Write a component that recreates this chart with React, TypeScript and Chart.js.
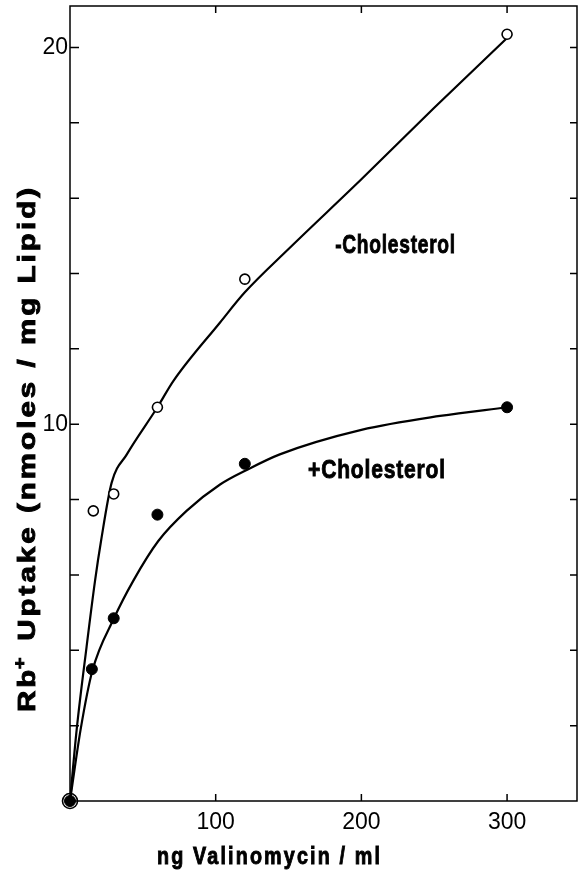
import React, { useEffect, useRef } from "react";
import { Chart, registerables } from "chart.js";

Chart.register(...registerables);

// ---- data ----
const openX = [0, 16, 30, 60, 120, 300];
const openY = [0, 7.7, 8.15, 10.45, 13.85, 20.35];
const filledX = [0, 15, 30, 60, 120, 300];
const filledY = [0, 3.5, 4.85, 7.6, 8.95, 10.45];

const openCurveX = [0, 4.6, 11.4, 17.2, 21.3, 28.6, 39, 60, 71, 103, 120, 150, 200, 250, 300];
const openCurveY = [0, 1.9, 4.1, 5.85, 6.9, 8.45, 9.2, 10.45, 11.15, 12.7, 13.5, 14.65, 16.5, 18.4, 20.25];
const filledCurveX = [0, 7.3, 15.3, 30.2, 43.5, 60.6, 80, 103, 122, 144, 200, 254, 300];
const filledCurveY = [0, 1.9, 3.45, 4.85, 5.85, 6.9, 7.7, 8.4, 8.8, 9.2, 9.85, 10.22, 10.45];

const xTickValues = [100, 200, 300];
const yTickLabelValues = [10, 20];
const yTickMarks = [2, 4, 6, 8, 10, 12, 14, 16, 18, 20];

const xTitle = "ng Valinomycin / ml";
const yTitleParts = ["Rb", "+", " Uptake (nmoles / mg Lipid)"];
const minusLabel = "-Cholesterol";
const plusLabel = "+Cholesterol";

const X_MIN = 0;
const X_MAX = 348;
const Y_MIN = 0;
const Y_MAX = 21.1;

const BOLD = '"Liberation Sans", Arial, Helvetica, sans-serif';
const REG = '"Liberation Sans", Arial, Helvetica, sans-serif';

const toPts = (xs: number[], ys: number[]) => xs.map((x, i) => ({ x, y: ys[i] }));

function heavyText(ctx: CanvasRenderingContext2D, text: string, x: number, y: number) {
  ctx.fillText(text, x, y);
  ctx.lineWidth = 0.9;
  ctx.strokeText(text, x, y);
}

// draw text squeezed horizontally to a target width (condensed look)
function drawFitted(
  ctx: CanvasRenderingContext2D,
  text: string,
  x: number,
  y: number,
  target: number,
  font: string,
  spacing: number
) {
  ctx.save();
  ctx.font = font;
  (ctx as any).letterSpacing = `${spacing}px`;
  const w = ctx.measureText(text).width - spacing;
  const sx = target / w;
  ctx.translate(x, y);
  ctx.scale(sx, 1);
  ctx.textAlign = "left";
  ctx.textBaseline = "alphabetic";
  heavyText(ctx, text, 0, 0);
  ctx.restore();
}

const decor = {
  id: "decor",
  afterDraw(chart: any) {
    const { ctx, chartArea } = chart;
    const xs = chart.scales.x;
    const ys = chart.scales.y;
    const { left, right, top, bottom } = chartArea;
    ctx.save();
    ctx.strokeStyle = "#000";
    ctx.fillStyle = "#000";
    ctx.lineWidth = 1.5;
    ctx.strokeRect(left, top, right - left, bottom - top);
    ctx.beginPath();
    for (const v of yTickMarks) {
      const y = ys.getPixelForValue(v);
      ctx.moveTo(left, y);
      ctx.lineTo(left + 9, y);
      ctx.moveTo(right, y);
      ctx.lineTo(right - 7, y);
    }
    for (const v of xTickValues) {
      const x = xs.getPixelForValue(v);
      ctx.moveTo(x, top);
      ctx.lineTo(x, top + 7);
      ctx.moveTo(x, bottom);
      ctx.lineTo(x, bottom - 7);
    }
    ctx.stroke();

    // curve labels
    drawFitted(ctx, minusLabel, xs.getPixelForValue(182), ys.getPixelForValue(14.54), 120, `bold 26px ${BOLD}`, 1);
    drawFitted(ctx, plusLabel, xs.getPixelForValue(163.4), ys.getPixelForValue(8.56), 137, `bold 26px ${BOLD}`, 1);

    // x title
    drawFitted(ctx, xTitle, 157, 864, 223, `bold 23px ${BOLD}`, 2.5);

    // y title (rotated)
    ctx.save();
    ctx.translate(35, 712);
    ctx.rotate(-Math.PI / 2);
    const big = `bold 24px ${BOLD}`;
    const small = `bold 16px ${BOLD}`;
    const sp = 2.5;
    (ctx as any).letterSpacing = `${sp}px`;
    ctx.font = big;
    const w0 = ctx.measureText(yTitleParts[0]).width;
    const w2 = ctx.measureText(yTitleParts[2]).width - sp;
    ctx.font = small;
    const w1 = ctx.measureText(yTitleParts[1]).width;
    const sx = 524 / (w0 + w1 + w2);
    ctx.scale(sx, 1);
    ctx.textBaseline = "alphabetic";
    let cx = 0;
    ctx.font = big;
    heavyText(ctx, yTitleParts[0], cx, 0);
    cx += w0;
    ctx.font = small;
    heavyText(ctx, yTitleParts[1], cx - 2, -10);
    cx += w1;
    ctx.font = big;
    heavyText(ctx, yTitleParts[2], cx, 0);
    ctx.restore();
    ctx.restore();
  },
};

export default function App() {
  const ref = useRef<HTMLCanvasElement | null>(null);
  useEffect(() => {
    if (!ref.current) return;
    const chart = new Chart(ref.current, {
      type: "scatter",
      data: {
        datasets: [
          {
            data: toPts(filledX, filledY),
            showLine: false,
            clip: false,
            pointRadius: 5.5,
            pointBackgroundColor: "#000",
            pointBorderColor: "#000",
            pointBorderWidth: 1,
          },
          {
            data: toPts(openX, openY),
            showLine: false,
            clip: false,
            pointRadius: (c: any) => (c.raw && c.raw.x === 0 ? 7.5 : 5),
            pointBackgroundColor: (c: any) => (c.raw && c.raw.x === 0 ? "rgba(0,0,0,0)" : "#fff"),
            pointBorderColor: "#000",
            pointBorderWidth: 1.6,
          },
          {
            data: toPts(openCurveX, openCurveY),
            showLine: true,
            pointRadius: 0,
            borderColor: "#000",
            borderWidth: 2.2,
            cubicInterpolationMode: "monotone",
            fill: false,
          },
          {
            data: toPts(filledCurveX, filledCurveY),
            showLine: true,
            pointRadius: 0,
            borderColor: "#000",
            borderWidth: 2.2,
            cubicInterpolationMode: "monotone",
            fill: false,
          },
        ],
      } as any,
      options: {
        animation: false,
        responsive: false,
        maintainAspectRatio: false,
        layout: { autoPadding: false, padding: { top: 6, right: 1, left: 0, bottom: 0 } },
        plugins: {
          legend: { display: false },
          tooltip: { enabled: false },
          title: { display: false },
        },
        scales: {
          x: {
            type: "linear",
            min: X_MIN,
            max: X_MAX,
            afterFit: (s: any) => {
              s.height = 69;
              s.paddingLeft = 0;
              s.paddingRight = 0;
            },
            afterBuildTicks: (s: any) => {
              s.ticks = xTickValues.map((v) => ({ value: v }));
            },
            grid: { display: false, drawTicks: false },
            border: { display: false },
            ticks: {
              color: "#000",
              font: { family: REG, size: 23 },
              padding: 8,
              maxRotation: 0,
              autoSkip: false,
              callback: (v: any) => String(v),
            },
          },
          y: {
            type: "linear",
            min: Y_MIN,
            max: Y_MAX,
            afterFit: (s: any) => {
              s.width = 70;
              s.paddingTop = 0;
              s.paddingBottom = 0;
            },
            afterBuildTicks: (s: any) => {
              s.ticks = yTickLabelValues.map((v) => ({ value: v }));
            },
            grid: { display: false, drawTicks: false },
            border: { display: false },
            ticks: {
              color: "#000",
              font: { family: REG, size: 23 },
              padding: 2,
              autoSkip: false,
              callback: (v: any) => String(v),
            },
          },
        },
      } as any,
      plugins: [decor],
    });
    return () => chart.destroy();
  }, []);
  return (
    <div style={{ position: "fixed", left: 0, top: 0, width: 578, height: 870, background: "#fff" }}>
      <canvas ref={ref} width={578} height={870} style={{ display: "block" }} />
    </div>
  );
}
